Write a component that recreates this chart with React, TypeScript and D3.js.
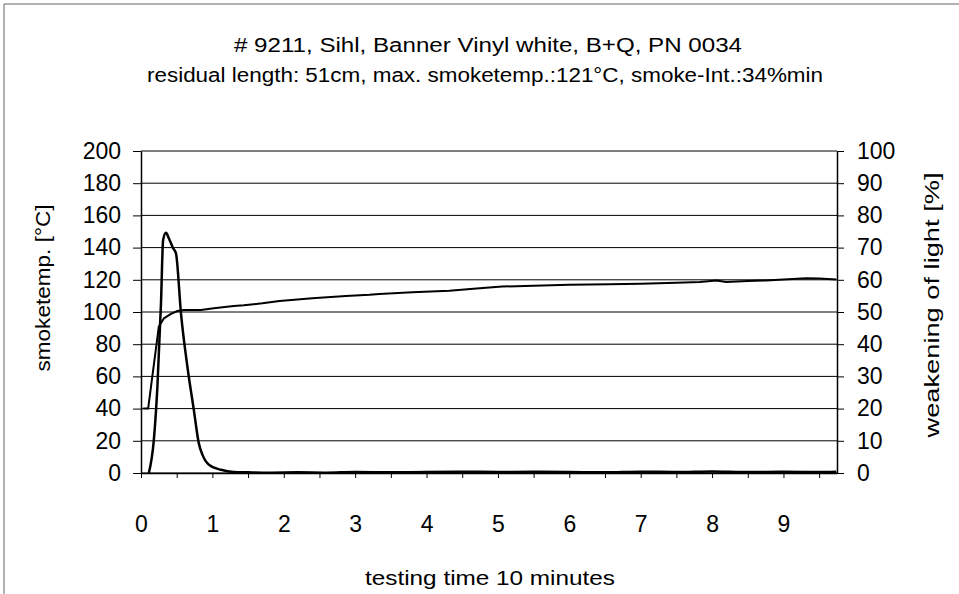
import * as d3 from "d3";
import { useRef, useEffect } from "react";

// smoke temperature (left axis, °C)
const tempTime = [0.03, 0.1, 0.25, 0.32, 0.42, 0.51, 0.6, 0.84, 1.02, 1.3, 1.44, 1.7, 1.94, 2.4, 2.87, 3.2, 3.34, 3.8, 4.32, 4.7, 5.06, 5.5, 6.0, 6.56, 7.0, 7.5, 7.83, 8.06, 8.2, 8.5, 8.76, 9.0, 9.32, 9.5, 9.74];
const tempValue = [40, 40, 91, 96, 98.8, 100.6, 101.2, 101.2, 102.3, 103.7, 104.2, 105.4, 106.8, 108.5, 110, 110.7, 111.2, 112.2, 113.2, 114.6, 115.8, 116.3, 116.9, 117.3, 117.6, 118.1, 118.6, 119.6, 118.6, 119.2, 119.6, 120.2, 121, 120.8, 120.2];

// weakening of light (right axis, %)
const smokeTime = [0.11, 0.18, 0.23, 0.28, 0.31, 0.35, 0.39, 0.45, 0.49, 0.56, 0.65, 0.74, 0.81, 0.86, 0.95, 1.12, 1.3, 1.5, 1.8, 2.2, 2.6, 3, 3.5, 4, 4.5, 5, 5.5, 6, 6.5, 7, 7.5, 8, 8.5, 9, 9.5, 9.74];
const smokeValue = [0, 10.3, 26.9, 52.7, 72.4, 74.6, 72.9, 69.8, 68.2, 49.6, 33, 19.6, 9.2, 5.7, 2.6, 1.0, 0.3, 0.2, 0.1, 0.2, 0.1, 0.3, 0.2, 0.3, 0.4, 0.3, 0.4, 0.3, 0.2, 0.4, 0.3, 0.5, 0.3, 0.4, 0.3, 0.4];

const leftTicks = [0, 20, 40, 60, 80, 100, 120, 140, 160, 180, 200];
const rightTicks = [0, 10, 20, 30, 40, 50, 60, 70, 80, 90, 100];
const xTicks = [0, 0.5, 1, 1.5, 2, 2.5, 3, 3.5, 4, 4.5, 5, 5.5, 6, 6.5, 7, 7.5, 8, 8.5, 9, 9.5];

const titleLines = [
  "# 9211, Sihl, Banner Vinyl white, B+Q, PN 0034",
  "residual length: 51cm, max. smoketemp.:121°C, smoke-Int.:34%min",
];

const FONT = "'Liberation Sans', Arial, sans-serif";

const width = 959;
const height = 594;
const marginLeft = 141;
const marginRight = 122;
const marginTop = 151;
const marginBottom = 121;

export default function App() {
  const gx = useRef<SVGGElement>(null);
  const gyl = useRef<SVGGElement>(null);
  const gyr = useRef<SVGGElement>(null);

  const x = d3.scaleLinear().domain([0, 9.75]).range([marginLeft, width - marginRight]);
  const yl = d3.scaleLinear().domain([0, 200]).range([height - marginBottom, marginTop]);
  const yr = d3.scaleLinear().domain([0, 100]).range([height - marginBottom, marginTop]);

  const tempLine = d3.line<number>()
    .x((_, i) => x(tempTime[i]))
    .y(d => yl(d));
  const smokeLine = d3.line<number>()
    .x((_, i) => x(smokeTime[i]))
    .y(d => yr(d))
    .curve(d3.curveMonotoneX);

  useEffect(() => {
    const style = (g: d3.Selection<SVGGElement, unknown, null, undefined>) => {
      g.selectAll("text").attr("font-family", FONT).attr("font-size", 23).attr("fill", "#000");
      g.selectAll("line").attr("stroke", "#000");
      g.select(".domain").attr("stroke", "#000").attr("stroke-width", 1.5);
    };
    if (gx.current) {
      const g = d3.select(gx.current);
      g.call(
        d3.axisBottom(x)
          .tickValues(xTicks)
          .tickSize(5)
          .tickSizeOuter(0)
          .tickPadding(38)
          .tickFormat(d => (Number.isInteger(+d) ? String(d) : ""))
      );
      style(g);
    }
    if (gyl.current) {
      const g = d3.select(gyl.current);
      g.call(d3.axisLeft(yl).tickValues(leftTicks).tickSize(8).tickSizeOuter(0).tickPadding(12));
      style(g);
    }
    if (gyr.current) {
      const g = d3.select(gyr.current);
      g.call(d3.axisRight(yr).tickValues(rightTicks).tickSize(7).tickSizeOuter(0).tickPadding(13));
      style(g);
    }
  }, [x, yl, yr]);

  return (
    <svg
      width={width}
      height={height}
      style={{ position: "absolute", left: 0, top: 0, background: "#fff" }}
    >
      <rect x={0} y={0} width={width} height={height} fill="#fff" />
      {/* outer frame */}
      <line x1={4} y1={4} x2={width} y2={4} stroke="#666" strokeWidth={1} />
      <line x1={4} y1={4} x2={4} y2={height} stroke="#666" strokeWidth={1} />

      <text x={488} y={52} textAnchor="middle" fontFamily={FONT} fontSize={20} textLength={508} lengthAdjust="spacingAndGlyphs">
        {titleLines[0]}
      </text>
      <text x={485} y={82} textAnchor="middle" fontFamily={FONT} fontSize={20} textLength={676} lengthAdjust="spacingAndGlyphs">
        {titleLines[1]}
      </text>

      {/* gridlines */}
      {leftTicks.map(t => (
        <line key={t} x1={marginLeft} x2={width - marginRight} y1={yl(t)} y2={yl(t)} stroke="#000" strokeWidth={1} />
      ))}

      <path d={tempLine(tempValue) ?? ""} fill="none" stroke="#000" strokeWidth={2} strokeLinejoin="round" />
      <path d={smokeLine(smokeValue) ?? ""} fill="none" stroke="#000" strokeWidth={2.5} strokeLinejoin="round" />

      <g ref={gx} transform={`translate(0,${height - marginBottom})`} />
      <g ref={gyl} transform={`translate(${marginLeft},0)`} />
      <g ref={gyr} transform={`translate(${width - marginRight},0)`} />

      <text
        transform={`translate(42,288) rotate(-90)`}
        textAnchor="middle"
        dominantBaseline="central"
        fontFamily={FONT}
        fontSize={21}
        textLength={167}
        lengthAdjust="spacingAndGlyphs"
      >
        smoketemp. [°C]
      </text>
      <text
        transform={`translate(931,305) rotate(-90)`}
        textAnchor="middle"
        dominantBaseline="central"
        fontFamily={FONT}
        fontSize={21}
        textLength={265}
        lengthAdjust="spacingAndGlyphs"
      >
        weakening of light [%]
      </text>
      <text x={490} y={585} textAnchor="middle" fontFamily={FONT} fontSize={21} textLength={250} lengthAdjust="spacingAndGlyphs">
        testing time 10 minutes
      </text>
    </svg>
  );
}
